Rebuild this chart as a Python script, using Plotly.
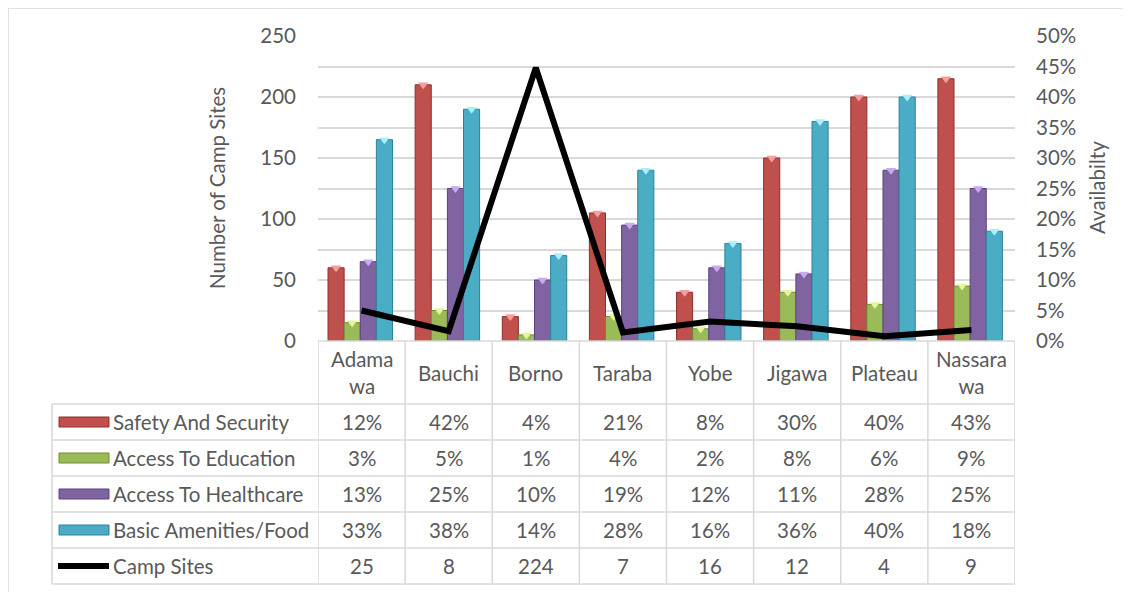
import plotly.graph_objects as go

states = ["Adama<br>wa", "Bauchi", "Borno", "Taraba", "Yobe", "Jigawa", "Plateau", "Nassara<br>wa"]
safety = [12, 42, 4, 21, 8, 30, 40, 43]
education = [3, 5, 1, 4, 2, 8, 6, 9]
healthcare = [13, 25, 10, 19, 12, 11, 28, 25]
amenities = [33, 38, 14, 28, 16, 36, 40, 18]
camp_sites = [25, 8, 224, 7, 16, 12, 4, 9]

series_names = ["Safety And Security", "Access To Education", "Access To Healthcare", "Basic Amenities/Food"]
series_vals = [safety, education, healthcare, amenities]
colors = ["#C0504D", "#9BBB59", "#8064A2", "#4BACC6"]
edge = ["#8E2F2C", "#6E8A38", "#59437A", "#2E8199"]
tops = ["#F2A09E", "#E4F59A", "#C9A9F0", "#A8F0FF"]

W, H = 1131, 592
OFF = 8  # page body margin
L, R, T, B = 318, 1015, 36, 341  # plot area, page pixels
FONT = "Lato"
TXT = "#595959"
GRID = "#D9D9D9"
FS = 20.5

def px(x):
    return (x - L) / (R - L)

def py(y):
    return (B - y) / (B - T)

fig = go.Figure()
n = len(states)
xs = list(range(n))
bw = 0.185
offs = [-0.385, -0.2, -0.015, 0.17]

for name, vals, c, e, o in zip(series_names, series_vals, colors, edge, offs):
    fig.add_trace(go.Bar(x=xs, y=vals, name=name, width=bw, offset=o,
                         marker=dict(color=c, line=dict(color=e, width=1)),
                         yaxis="y", showlegend=False, hoverinfo="y"))
for name, vals, tp, o in zip(series_names, series_vals, tops, offs):
    fig.add_trace(go.Scatter(x=[i + o + bw / 2 for i in xs], y=vals, mode="markers",
                             marker=dict(symbol="triangle-down", size=9, color=tp,
                                         line=dict(width=0)),
                             yaxis="y", showlegend=False, hoverinfo="skip",
                             cliponaxis=False))

fig.add_trace(go.Scatter(x=xs, y=camp_sites, name="Camp Sites", mode="lines",
                         line=dict(color="black", width=6), yaxis="y2", showlegend=False))

ann = []
shapes = []

# outer border
shapes.append(dict(type="rect", xref="paper", yref="paper", x0=px(8), x1=px(1145),
                   y0=py(610), y1=py(8), line=dict(color=GRID, width=1.5)))

# table grid
row_lines = [404, 440, 476, 512, 548, 584]
for i in range(n + 1):
    shapes.append(dict(type="line", xref="x", yref="paper", x0=i - 0.5, x1=i - 0.5,
                       y0=py(B), y1=py(584), line=dict(color=GRID, width=1.5)))
shapes.append(dict(type="line", xref="paper", yref="paper", x0=px(52), x1=px(52),
                   y0=py(404), y1=py(584), line=dict(color=GRID, width=1.5)))
shapes.append(dict(type="line", xref="paper", yref="paper", x0=px(L), x1=px(R),
                   y0=py(B), y1=py(B), line=dict(color=GRID, width=1.5)))
for yl in row_lines:
    shapes.append(dict(type="line", xref="paper", yref="paper", x0=px(52), x1=px(R),
                       y0=py(yl), y1=py(yl), line=dict(color=GRID, width=1.5)))

fnt = dict(family=FONT, size=FS, color=TXT)
for i, s in enumerate(states):
    ann.append(dict(x=i, y=py(372.5), xref="x", yref="paper", text=s, showarrow=False,
                    font=fnt, xanchor="center", yanchor="middle"))

row_centers = [422, 458, 494, 530, 566]
for r, (name, vals, c, e) in enumerate(zip(series_names, series_vals, colors, edge)):
    yc = row_centers[r]
    ann.append(dict(x=px(111), y=py(yc), xref="paper", yref="paper", text=name,
                    showarrow=False, font=fnt, xanchor="left", yanchor="middle"))
    shapes.append(dict(type="rect", xref="paper", yref="paper", x0=px(59), x1=px(109),
                       y0=py(yc + 5), y1=py(yc - 5), fillcolor=c, line=dict(color=e, width=1)))
    for i, v in enumerate(vals):
        ann.append(dict(x=i, y=py(yc), xref="x", yref="paper", text=f"{v}%", showarrow=False,
                        font=fnt, xanchor="center", yanchor="middle"))
yc = row_centers[4]
ann.append(dict(x=px(111), y=py(yc), xref="paper", yref="paper", text="Camp Sites",
                showarrow=False, font=fnt, xanchor="left", yanchor="middle"))
shapes.append(dict(type="line", xref="paper", yref="paper", x0=px(58), x1=px(109),
                   y0=py(yc), y1=py(yc), line=dict(color="black", width=6)))
for i, v in enumerate(camp_sites):
    ann.append(dict(x=i, y=py(yc), xref="x", yref="paper", text=str(v), showarrow=False,
                    font=fnt, xanchor="center", yanchor="middle"))

ann.append(dict(x=px(217), y=py(188), xref="paper", yref="paper", text="Number of Camp Sites",
                textangle=-90, showarrow=False, font=fnt, xanchor="center", yanchor="middle"))
ann.append(dict(x=px(1097), y=py(188), xref="paper", yref="paper", text="Availabilty",
                textangle=-90, showarrow=False, font=fnt, xanchor="center", yanchor="middle"))

fig.update_layout(
    width=W, height=H,
    margin=dict(l=L - OFF, r=W - (R - OFF), t=T - OFF, b=H - (B - OFF), pad=0),
    paper_bgcolor="white", plot_bgcolor="white",
    font=dict(family=FONT, size=FS, color=TXT),
    xaxis=dict(range=[-0.5, n - 0.5], showticklabels=False, showgrid=False,
               zeroline=False, showline=False, ticks=""),
    yaxis=dict(range=[0, 50], dtick=5, side="right", ticksuffix="%", showgrid=True,
               gridcolor=GRID, gridwidth=1.5, zeroline=False, showline=False, ticks="",
               ticklabelstandoff=20, tickfont=fnt),
    yaxis2=dict(range=[0, 250], dtick=50, side="left", overlaying="y", showgrid=False,
                zeroline=False, showline=False, ticks="", ticklabelstandoff=21, tickfont=fnt),
    annotations=ann, shapes=shapes, showlegend=False,
)

fig.write_html("out.html")
